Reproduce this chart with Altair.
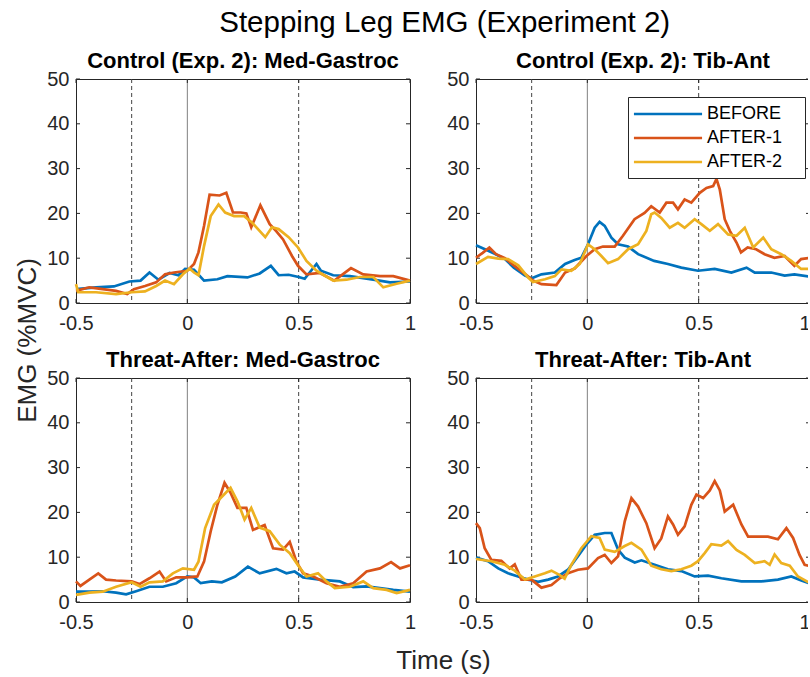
import altair as alt
import pandas as pd

FONT = "Liberation Sans"
AX = "#262626"
SERIES = ["BEFORE", "AFTER-1", "AFTER-2"]
COLORS = ["#0072BD", "#D95319", "#EDB120"]
MAIN_TITLE = "Stepping Leg EMG (Experiment 2)"
PANEL_TITLES = ["Control (Exp. 2): Med-Gastroc", "Control (Exp. 2): Tib-Ant",
                "Threat-After: Med-Gastroc", "Threat-After: Tib-Ant"]
X_TITLE = "Time (s)"
Y_TITLE = "EMG (%MVC)"
X_TICKS = [-0.5, 0, 0.5, 1]
Y_TICKS = [0, 10, 20, 30, 40, 50]
DASHED_AT = [-0.25, 0.5]
SOLID_AT = [0]

# ---- Control (Exp. 2): Med-Gastroc ----
CMG_BEFORE_T = [-0.5, -0.41, -0.33, -0.26, -0.21, -0.17, -0.13, -0.08, -0.04, -0.01, 0.03, 0.075, 0.135, 0.18, 0.27, 0.325, 0.375, 0.41, 0.455, 0.5, 0.527, 0.58, 0.6, 0.655, 0.73, 0.835, 0.91, 1.0]
CMG_BEFORE_V = [3.1, 3.5, 3.7, 4.8, 5.0, 6.8, 5.2, 6.7, 6.2, 7.6, 7.4, 5.0, 5.3, 6.0, 5.7, 6.6, 8.3, 6.2, 6.3, 5.8, 5.4, 8.7, 7.2, 6.2, 6.0, 5.2, 4.6, 4.8]
CMG_AFTER1_T = [-0.5, -0.44, -0.38, -0.32, -0.27, -0.24, -0.19, -0.14, -0.1, -0.06, 0, 0.03, 0.05, 0.075, 0.1, 0.145, 0.175, 0.205, 0.24, 0.265, 0.287, 0.328, 0.37, 0.4, 0.43, 0.47, 0.497, 0.535, 0.595, 0.66, 0.735, 0.79, 0.865, 0.925, 1.0]
CMG_AFTER1_V = [2.7, 3.5, 3.1, 2.7, 2.0, 3.1, 3.8, 4.6, 6.4, 6.8, 7.2, 8.7, 11.3, 17.2, 24.2, 24.0, 24.6, 20.2, 20.2, 20.0, 16.9, 21.8, 17.6, 16.0, 14.2, 10.5, 8.3, 6.4, 6.7, 5.0, 7.8, 6.4, 6.0, 6.0, 5.0]
CMG_AFTER2_T = [-0.5, -0.49, -0.41, -0.32, -0.25, -0.19, -0.14, -0.1, -0.06, -0.02, 0.01, 0.03, 0.05, 0.075, 0.105, 0.14, 0.17, 0.21, 0.255, 0.29, 0.35, 0.38, 0.41, 0.455, 0.497, 0.535, 0.58, 0.655, 0.715, 0.775, 0.835, 0.88, 0.94, 1.0]
CMG_AFTER2_V = [4.2, 2.4, 2.4, 2.0, 2.4, 2.6, 3.8, 5.0, 4.2, 6.4, 7.7, 6.8, 6.2, 12.7, 19.4, 22.0, 20.2, 19.4, 19.4, 18.0, 14.7, 16.9, 16.5, 14.7, 12.4, 9.4, 7.2, 5.0, 5.2, 5.8, 5.8, 3.5, 4.3, 5.0]

# ---- Control (Exp. 2): Tib-Ant ----
CTA_BEFORE_T = [-0.5, -0.46, -0.416, -0.37, -0.33, -0.28, -0.25, -0.206, -0.146, -0.1, -0.057, -0.027, 0.003, 0.033, 0.055, 0.078, 0.108, 0.138, 0.183, 0.228, 0.3, 0.362, 0.422, 0.497, 0.572, 0.647, 0.715, 0.752, 0.826, 0.886, 0.93, 1.0]
CTA_BEFORE_V = [12.9, 12.0, 11.0, 9.8, 7.9, 6.1, 5.5, 6.4, 6.8, 8.7, 9.6, 10.1, 13.1, 16.8, 18.1, 17.2, 14.6, 13.1, 12.6, 10.9, 9.4, 8.7, 7.9, 7.2, 7.6, 6.8, 7.9, 6.8, 6.8, 6.1, 6.4, 5.9]
CTA_AFTER1_T = [-0.5, -0.47, -0.44, -0.41, -0.37, -0.33, -0.28, -0.244, -0.206, -0.139, -0.1, -0.057, -0.004, 0.033, 0.07, 0.123, 0.16, 0.212, 0.257, 0.287, 0.325, 0.355, 0.385, 0.407, 0.437, 0.467, 0.505, 0.535, 0.565, 0.58, 0.595, 0.617, 0.64, 0.67, 0.69, 0.72, 0.758, 0.796, 0.84, 0.886, 0.93, 0.96, 1.0]
CTA_AFTER1_V = [10.1, 11.2, 12.4, 10.9, 10.0, 8.4, 6.5, 5.0, 4.2, 4.0, 6.8, 7.7, 10.5, 12.0, 12.6, 12.6, 15.0, 18.7, 20.1, 21.6, 20.2, 22.4, 22.4, 20.9, 23.1, 22.4, 24.6, 25.7, 26.1, 27.7, 25.3, 18.7, 16.1, 13.5, 11.3, 12.4, 12.0, 10.9, 10.1, 10.5, 8.3, 9.8, 10.1]
CTA_AFTER2_T = [-0.5, -0.446, -0.4, -0.356, -0.31, -0.266, -0.244, -0.19, -0.146, -0.116, -0.072, -0.034, 0.003, 0.033, 0.063, 0.093, 0.138, 0.183, 0.228, 0.265, 0.287, 0.302, 0.332, 0.37, 0.407, 0.437, 0.482, 0.512, 0.55, 0.587, 0.632, 0.67, 0.707, 0.745, 0.79, 0.826, 0.871, 0.916, 0.96, 1.0]
CTA_AFTER2_V = [8.7, 10.3, 9.9, 9.8, 8.4, 5.7, 4.7, 5.3, 6.0, 7.5, 7.2, 8.7, 13.1, 12.0, 10.5, 8.9, 9.8, 12.0, 13.1, 16.1, 19.8, 20.2, 19.0, 16.8, 17.9, 16.8, 18.7, 17.6, 16.1, 17.6, 15.3, 15.0, 16.8, 12.4, 14.6, 12.0, 10.9, 9.4, 7.6, 7.6]

# ---- Threat-After: Med-Gastroc ----
TMG_BEFORE_T = [-0.5, -0.44, -0.38, -0.32, -0.275, -0.23, -0.17, -0.11, -0.05, 0, 0.03, 0.06, 0.11, 0.155, 0.215, 0.272, 0.325, 0.4, 0.445, 0.482, 0.52, 0.595, 0.685, 0.745, 0.805, 0.865, 0.925, 1.0]
TMG_BEFORE_V = [2.3, 2.3, 2.4, 2.1, 1.7, 2.4, 3.4, 3.4, 4.2, 5.7, 5.5, 4.2, 4.6, 4.4, 5.7, 7.9, 6.4, 7.4, 6.4, 6.8, 5.5, 5.0, 4.6, 3.3, 3.5, 3.1, 2.7, 2.3]
TMG_AFTER1_T = [-0.5, -0.48, -0.44, -0.4, -0.365, -0.32, -0.25, -0.215, -0.17, -0.125, -0.095, -0.05, 0, 0.045, 0.075, 0.105, 0.135, 0.167, 0.194, 0.225, 0.265, 0.295, 0.347, 0.385, 0.43, 0.46, 0.49, 0.52, 0.565, 0.625, 0.685, 0.745, 0.805, 0.865, 0.915, 0.955, 1.0]
TMG_AFTER1_V = [4.6, 3.6, 5.0, 6.4, 5.0, 4.8, 4.6, 4.0, 5.3, 6.8, 4.6, 5.5, 5.5, 5.7, 9.0, 15.8, 21.7, 26.6, 24.4, 21.0, 21.0, 16.1, 17.2, 12.0, 11.7, 13.4, 9.0, 6.4, 5.7, 4.2, 3.4, 4.2, 6.8, 7.5, 8.9, 7.5, 8.2]
TMG_AFTER2_T = [-0.5, -0.44, -0.38, -0.32, -0.25, -0.21, -0.17, -0.11, -0.065, -0.02, 0.03, 0.05, 0.08, 0.12, 0.165, 0.194, 0.225, 0.257, 0.287, 0.325, 0.37, 0.415, 0.46, 0.497, 0.535, 0.587, 0.625, 0.662, 0.73, 0.79, 0.835, 0.895, 0.94, 1.0]
TMG_AFTER2_V = [1.6, 2.1, 2.3, 3.4, 4.4, 3.4, 4.4, 4.6, 6.4, 7.5, 7.2, 9.0, 16.5, 21.7, 24.0, 25.5, 22.5, 18.4, 21.0, 16.6, 15.8, 12.8, 10.9, 8.2, 5.7, 6.4, 4.6, 3.1, 3.4, 4.6, 3.1, 2.7, 2.0, 2.7]

# ---- Threat-After: Tib-Ant ----
TTA_BEFORE_T = [-0.5, -0.446, -0.4, -0.356, -0.311, -0.266, -0.221, -0.176, -0.132, -0.087, -0.042, -0.005, 0.033, 0.078, 0.108, 0.138, 0.168, 0.213, 0.243, 0.302, 0.362, 0.422, 0.482, 0.542, 0.602, 0.692, 0.781, 0.856, 0.916, 0.961, 1.0]
TTA_BEFORE_V = [9.9, 9.1, 7.5, 6.4, 5.7, 5.0, 4.5, 5.0, 5.7, 7.2, 10.2, 12.8, 15.0, 15.4, 15.4, 11.7, 9.9, 8.8, 9.3, 8.3, 7.3, 6.9, 5.7, 5.9, 5.3, 4.6, 4.6, 5.0, 5.7, 4.8, 4.1]
TTA_AFTER1_T = [-0.5, -0.483, -0.461, -0.431, -0.386, -0.349, -0.326, -0.296, -0.251, -0.206, -0.161, -0.124, -0.087, -0.042, 0.003, 0.048, 0.078, 0.108, 0.138, 0.168, 0.198, 0.228, 0.265, 0.302, 0.332, 0.362, 0.385, 0.407, 0.437, 0.467, 0.49, 0.52, 0.55, 0.572, 0.595, 0.617, 0.655, 0.692, 0.722, 0.767, 0.811, 0.856, 0.894, 0.924, 0.953, 0.976, 1.0]
TTA_AFTER1_V = [17.6, 16.5, 12.0, 9.4, 9.2, 7.5, 8.4, 5.0, 5.0, 3.2, 3.8, 5.3, 6.4, 7.2, 7.5, 9.8, 10.5, 8.7, 10.2, 18.0, 23.2, 21.3, 17.6, 12.0, 14.2, 19.1, 17.3, 15.0, 16.9, 21.7, 24.0, 23.2, 24.9, 27.0, 24.9, 20.2, 21.7, 17.3, 14.6, 14.6, 14.6, 14.0, 16.5, 14.3, 10.5, 8.3, 8.0]
TTA_AFTER2_T = [-0.5, -0.431, -0.371, -0.326, -0.28, -0.236, -0.191, -0.161, -0.124, -0.102, -0.072, -0.027, 0.018, 0.055, 0.078, 0.123, 0.168, 0.198, 0.243, 0.287, 0.332, 0.377, 0.422, 0.467, 0.497, 0.527, 0.557, 0.602, 0.632, 0.67, 0.707, 0.752, 0.796, 0.819, 0.841, 0.871, 0.909, 0.946, 1.0]
TTA_AFTER2_V = [9.6, 9.1, 8.3, 7.0, 5.0, 5.7, 6.4, 7.0, 6.0, 5.2, 8.3, 12.0, 14.7, 14.3, 11.7, 11.2, 12.5, 13.2, 11.7, 8.1, 7.3, 6.9, 7.3, 8.1, 9.1, 10.9, 12.9, 12.6, 13.6, 11.6, 10.5, 8.7, 9.1, 8.3, 10.6, 8.7, 8.1, 5.7, 4.2]

PANELS = [
    [(CMG_BEFORE_T, CMG_BEFORE_V), (CMG_AFTER1_T, CMG_AFTER1_V), (CMG_AFTER2_T, CMG_AFTER2_V)],
    [(CTA_BEFORE_T, CTA_BEFORE_V), (CTA_AFTER1_T, CTA_AFTER1_V), (CTA_AFTER2_T, CTA_AFTER2_V)],
    [(TMG_BEFORE_T, TMG_BEFORE_V), (TMG_AFTER1_T, TMG_AFTER1_V), (TMG_AFTER2_T, TMG_AFTER2_V)],
    [(TTA_BEFORE_T, TTA_BEFORE_V), (TTA_AFTER1_T, TTA_AFTER1_V), (TTA_AFTER2_T, TTA_AFTER2_V)],
]

W, H = 334, 224
TICK = 4


def series_frame(pairs):
    rows = []
    for name, (ts, vs) in zip(SERIES, pairs):
        for i, (t, v) in enumerate(zip(ts, vs)):
            rows.append({"series": name, "t": t, "v": v, "i": i})
    return pd.DataFrame(rows)


def panel(pairs, title, legend=False, ytitle=False, xtitle=False, right=False):
    xs = alt.Scale(domain=[-0.5, 1], nice=False, zero=False)
    ys = alt.Scale(domain=[0, 50], nice=False)
    common = dict(ticks=False, domain=False, grid=False, labelFlush=False,
                  labelOverlap=False, labelFontSize=20, labelFont=FONT,
                  labelColor=AX)
    if right:
        # the figure edge cuts through the last label: keep it inside the page
        xalign = {"condition": {"test": "datum.value == 1", "value": "right"},
                  "value": "center"}
    else:
        xalign = "center"
    if xtitle:
        xaxis = alt.Axis(values=X_TICKS, labelPadding=10, labelExpr="'' + datum.value",
                         labelAlign=xalign,
                         title=X_TITLE, titleX=367, titleY=58, titleFontSize=26,
                         titleFont=FONT, titleFontWeight="normal", titleColor=AX,
                         titleAlign="center", titleBaseline="middle", **common)
    else:
        xaxis = alt.Axis(values=X_TICKS, labelPadding=10, labelExpr="'' + datum.value",
                         labelAlign=xalign, title=None, **common)
    if ytitle:
        yaxis = alt.Axis(values=Y_TICKS, labelPadding=7, title=Y_TITLE,
                         titleX=-49, titleY=261, titleAngle=270, titleFontSize=26,
                         titleFont=FONT, titleFontWeight="normal", titleColor=AX,
                         titleAlign="center", titleBaseline="middle", **common)
    else:
        yaxis = alt.Axis(values=Y_TICKS, labelPadding=7, title=None, **common)

    if legend:
        leg = alt.Legend(title=None,
                         orient="none", legendX=152, legendY=18,
                         padding=7, strokeColor=AX, fillColor="white",
                         symbolType="M-4,0H4", symbolSize=290,
                         symbolStrokeWidth=2.7, symbolOffset=23,
                         labelOffset=29, labelFontSize=18, labelFont=FONT,
                         labelColor="black", rowPadding=5,
                         labelExpr="datum.label + '\u00a0\u00a0\u00a0\u200b'")
    else:
        leg = None

    X = lambda: alt.X("t:Q", scale=xs, axis=xaxis)
    Y = lambda: alt.Y("v:Q", scale=ys, axis=yaxis)

    df = series_frame(pairs)
    dashed = alt.Chart(pd.DataFrame({"t": DASHED_AT})).mark_rule(
        color="#444444", strokeWidth=1, strokeDash=[4, 3]).encode(x=X())
    solid = alt.Chart(pd.DataFrame({"t": SOLID_AT})).mark_rule(
        color="#808080", strokeWidth=1).encode(x=X())

    xt = pd.DataFrame({"t": X_TICKS})
    yt = pd.DataFrame({"v": Y_TICKS})
    tb = alt.Chart(xt).mark_rule(color=AX, strokeWidth=1).encode(
        x=X(), y=alt.value(H), y2=alt.value(H - TICK))
    tt = alt.Chart(xt).mark_rule(color=AX, strokeWidth=1).encode(
        x=X(), y=alt.value(0), y2=alt.value(TICK))
    tl = alt.Chart(yt).mark_rule(color=AX, strokeWidth=1).encode(
        y=Y(), x=alt.value(0), x2=alt.value(TICK))
    tr = alt.Chart(yt).mark_rule(color=AX, strokeWidth=1).encode(
        y=Y(), x=alt.value(W), x2=alt.value(W - TICK))
    lines = alt.Chart(df).mark_line(strokeWidth=2.7).encode(
        x=X(), y=Y(),
        color=alt.Color("series:N", scale=alt.Scale(domain=SERIES, range=COLORS),
                        legend=leg),
        order="i:Q",
    )

    return alt.layer(dashed, solid, tb, tt, tl, tr, lines).properties(
        width=W, height=H,
        title=alt.TitleParams(title, fontSize=22, fontWeight="bold", font=FONT,
                              color="black", offset=0, dy=21, baseline="alphabetic",
                              anchor="middle"),
    )


p1 = panel(PANELS[0], PANEL_TITLES[0], ytitle=True)
p2 = panel(PANELS[1], PANEL_TITLES[1], legend=True, right=True)
p3 = panel(PANELS[2], PANEL_TITLES[2], xtitle=True)
p4 = panel(PANELS[3], PANEL_TITLES[3], right=True)


def build(pad_right):
    return alt.concat(p1, p2, p3, p4, columns=2,
                      spacing={"row": 75, "column": 66}, bounds="flush").resolve_scale(
        color="independent", x="independent", y="independent").resolve_legend(
        color="independent").properties(
        title=alt.TitleParams(MAIN_TITLE, fontSize=29.5, fontWeight="normal", font=FONT,
                              color="black", anchor="middle", dx=30, offset=-12,
                              baseline="alphabetic"),
        padding={"left": 13, "top": 8, "right": pad_right, "bottom": 0},
        background="white",
    ).configure_view(stroke=AX, strokeWidth=1)


try:
    build(-8).save("out.html", embed_options={"renderer": "svg", "actions": False})
except Exception:
    build(0).save("out.html", embed_options={"renderer": "svg", "actions": False})
